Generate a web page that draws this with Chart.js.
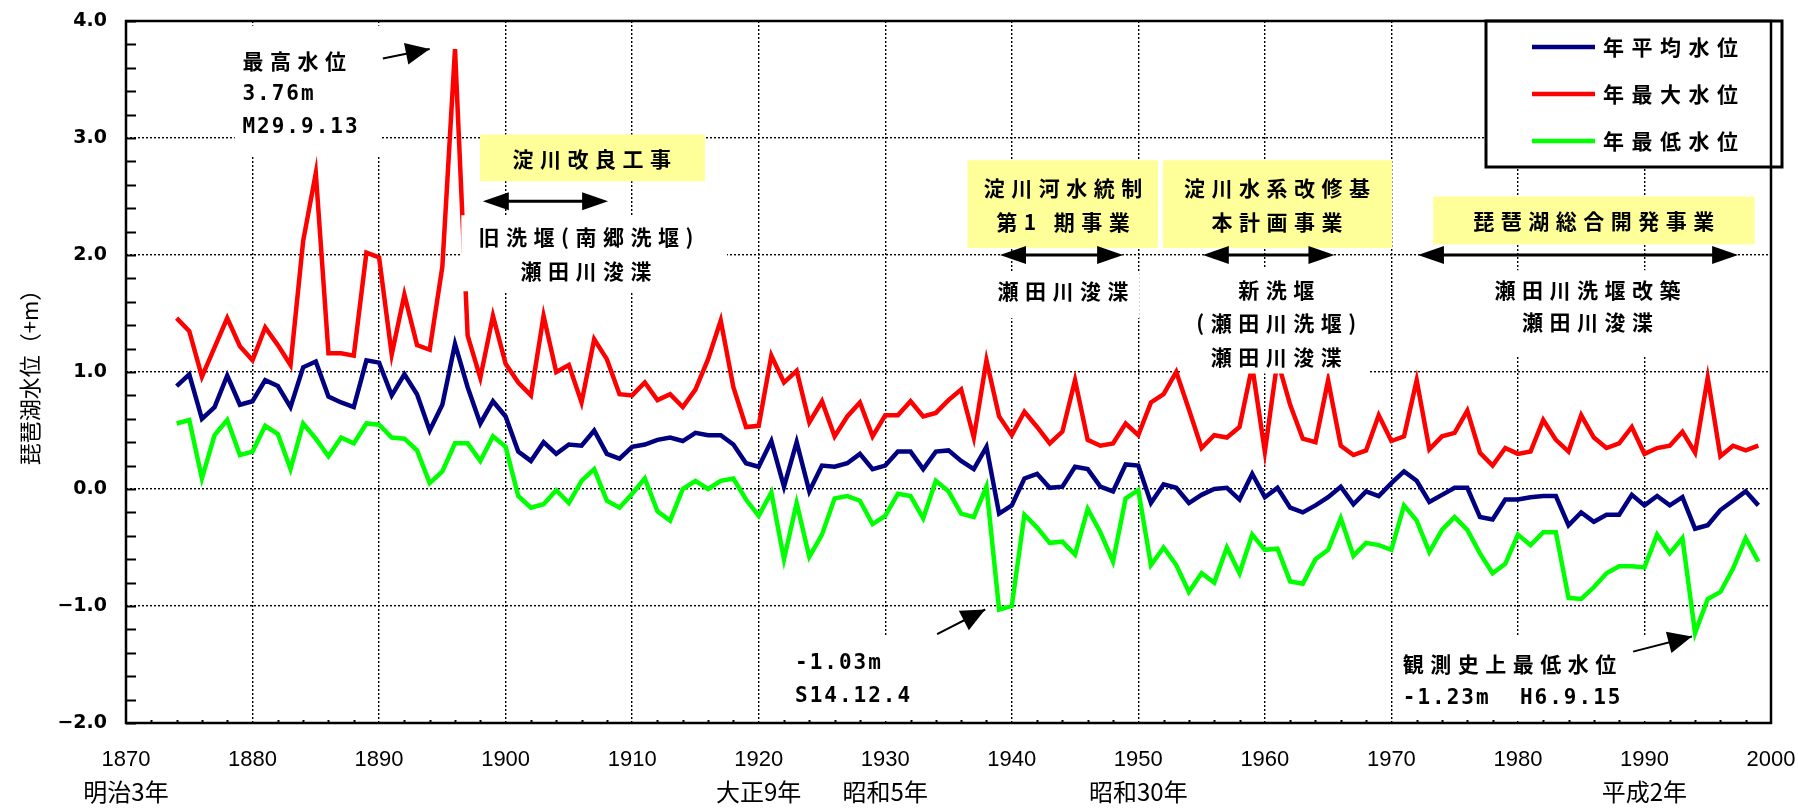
<!DOCTYPE html>
<html>
<head>
<meta charset="utf-8">
<script src="https://cdn.jsdelivr.net/npm/chart.js@4.4.1/dist/chart.umd.min.js"></script>
<style>
  html, body { margin: 0; padding: 0; background: #fff; }
</style>
</head>
<body>
<canvas id="chart" width="1798" height="809"></canvas>
<script>
// 琵琶湖水位 (1874-1999) 年平均・年最大・年最低
const startYear = 1874;

const meanLevel = [
    0.88, 0.98, 0.60, 0.70, 0.97, 0.72, 0.75, 0.93, 0.88, 0.70,
    1.04, 1.09, 0.79, 0.74, 0.70, 1.10, 1.08, 0.80, 0.98, 0.81,
    0.50, 0.72, 1.24, 0.87, 0.56, 0.75, 0.62, 0.32, 0.24, 0.40,
    0.30, 0.38, 0.37, 0.50, 0.30, 0.26, 0.36, 0.38, 0.42, 0.44,
    0.41, 0.48, 0.46, 0.46, 0.38, 0.22, 0.19, 0.41, 0.02, 0.40,
    -0.02, 0.20, 0.19, 0.22, 0.30, 0.17, 0.20, 0.32, 0.32, 0.17,
    0.32, 0.33, 0.24, 0.17, 0.36, -0.21, -0.14, 0.09, 0.13, 0.01,
    0.02, 0.19, 0.17, 0.02, -0.02, 0.21, 0.20, -0.12, 0.04, 0.01,
    -0.12, -0.05, 0.00, 0.01, -0.09, 0.13, -0.07, 0.01, -0.16, -0.20,
    -0.14, -0.07, 0.02, -0.13, -0.02, -0.06, 0.05, 0.15, 0.07, -0.11,
    -0.05, 0.01, 0.01, -0.24, -0.26, -0.09, -0.09, -0.07, -0.06, -0.06,
    -0.31, -0.20, -0.28, -0.22, -0.22, -0.05, -0.14, -0.06, -0.14, -0.07,
    -0.34, -0.31, -0.18, -0.10, -0.02, -0.14
];

const maxLevel = [
    1.46, 1.35, 0.96, 1.21, 1.46, 1.22, 1.10, 1.38, 1.23, 1.06,
    2.12, 2.70, 1.16, 1.16, 1.14, 2.02, 1.98, 1.15, 1.66, 1.23,
    1.19, 1.90, 3.76, 1.31, 0.95, 1.48, 1.07, 0.91, 0.80, 1.48,
    1.00, 1.06, 0.74, 1.28, 1.11, 0.81, 0.80, 0.91, 0.76, 0.81,
    0.70, 0.85, 1.11, 1.44, 0.87, 0.53, 0.54, 1.14, 0.91, 1.01,
    0.57, 0.75, 0.45, 0.62, 0.74, 0.45, 0.63, 0.63, 0.75, 0.62,
    0.65, 0.76, 0.85, 0.44, 1.10, 0.62, 0.46, 0.66, 0.53, 0.39,
    0.49, 0.93, 0.42, 0.37, 0.39, 0.56, 0.46, 0.74, 0.81, 1.00,
    0.68, 0.35, 0.46, 0.44, 0.53, 1.05, 0.32, 1.10, 0.72, 0.43,
    0.40, 0.93, 0.37, 0.29, 0.33, 0.63, 0.41, 0.45, 0.93, 0.34,
    0.45, 0.48, 0.67, 0.31, 0.20, 0.35, 0.30, 0.32, 0.59, 0.42,
    0.32, 0.63, 0.44, 0.35, 0.39, 0.53, 0.30, 0.35, 0.37, 0.49,
    0.31, 0.95, 0.28, 0.37, 0.33, 0.37
];

const minLevel = [
    0.56, 0.59, 0.09, 0.46, 0.59, 0.29, 0.32, 0.54, 0.47, 0.17,
    0.56, 0.43, 0.28, 0.44, 0.39, 0.56, 0.55, 0.44, 0.43, 0.33,
    0.05, 0.15, 0.39, 0.39, 0.24, 0.45, 0.36, -0.06, -0.16, -0.13,
    -0.01, -0.12, 0.07, 0.17, -0.10, -0.16, -0.04, 0.09, -0.19, -0.27,
    0.00, 0.07, 0.00, 0.07, 0.09, -0.09, -0.23, -0.03, -0.60, -0.12,
    -0.58, -0.39, -0.08, -0.06, -0.10, -0.30, -0.23, -0.04, -0.06, -0.25,
    0.07, -0.02, -0.21, -0.24, 0.02, -1.03, -1.00, -0.22, -0.33, -0.46,
    -0.45, -0.56, -0.17, -0.37, -0.62, -0.08, -0.01, -0.65, -0.50, -0.65,
    -0.88, -0.72, -0.80, -0.50, -0.72, -0.39, -0.52, -0.51, -0.79, -0.81,
    -0.60, -0.52, -0.25, -0.57, -0.46, -0.48, -0.52, -0.14, -0.27, -0.54,
    -0.35, -0.24, -0.35, -0.55, -0.72, -0.64, -0.39, -0.48, -0.37, -0.37,
    -0.93, -0.94, -0.84, -0.72, -0.66, -0.66, -0.67, -0.39, -0.55, -0.42,
    -1.23, -0.94, -0.88, -0.68, -0.42, -0.62
];

const years = meanLevel.map((_, i) => startYear + i);

const seriesNames = ['年平均水位', '年最大水位', '年最低水位'];
const seriesColors = ['#000080', '#ff0000', '#00ff00'];

const eraYears = [1870, 1920, 1930, 1950, 1990];
const eraNames = ['明治3年', '大正9年', '昭和5年', '昭和30年', '平成2年'];

const CJK = '"Noto Sans CJK JP"';
const MONO = '"DejaVu Sans Mono"';

// 注記（座標はデータ単位: 年, m）
const projectBoxes = [
    {x0: 1897.98, x1: 1915.76, v0: 3.03, v1: 2.63, cx: 1906.8, lines: [['淀川改良工事', 2.82]]},
    {x0: 1936.5, x1: 1951.55, v0: 2.81, v1: 2.06, cx: 1944.05, lines: [['淀川河水統制', 2.57], ['第1 期事業', 2.28]]},
    {x0: 1951.95, x1: 1970.05, v0: 2.81, v1: 2.06, cx: 1960.96, lines: [['淀川水系改修基', 2.57], ['本計画事業', 2.28]]},
    {x0: 1973.3, x1: 1998.7, v0: 2.50, v1: 2.09, cx: 1986.0, lines: [['琵琶湖総合開発事業', 2.29]]}
];

const spanArrows = [
    {x0: 1898.2, x1: 1908.1, v: 2.46},
    {x0: 1939.07, x1: 1948.8, v: 2.0},
    {x0: 1955.1, x1: 1965.5, v: 2.0},
    {x0: 1972.1, x1: 1997.4, v: 2.0}
];

const workNotes = [
    {x0: 1896.5, x1: 1917.5, v0: 2.34, v1: 1.69, cx: 1906.35, lines: [['旧洗堰(南郷洗堰)', 2.15], ['瀬田川浚渫', 1.86]]},
    {x0: 1937.9, x1: 1950.1, v0: 1.86, v1: 1.46, cx: 1944.05, lines: [['瀬田川浚渫', 1.69]]},
    {x0: 1953.45, x1: 1968.3, v0: 1.89, v1: 0.987, cx: 1960.9, lines: [['新洗堰', 1.70], ['(瀬田川洗堰)', 1.42], ['瀬田川浚渫', 1.13]]},
    {x0: 1976.05, x1: 1995.3, v0: 1.87, v1: 1.14, cx: 1985.5, lines: [['瀬田川洗堰改築', 1.70], ['瀬田川浚渫', 1.43]]}
];

const recordNotes = [
    {x0: 1878.6, x1: 1890.2, v0: 3.96, v1: 2.85, lx: 1879.2,
        lines: [['最高水位', 3.66, 'cjk'], ['3.76m', 3.37, 'mono'], ['M29.9.13', 3.09, 'mono']],
        arrow: [1890.3, 3.68, 1894.0, 3.76]},
    {x0: 1922.5, x1: 1932.4, v0: -1.26, v1: -1.97, lx: 1922.87,
        lines: [['-1.03m', -1.49, 'mono'], ['S14.12.4', -1.77, 'mono']],
        arrow: [1934.1, -1.24, 1937.9, -1.03]},
    {x0: 1970.5, x1: 1990.4, v0: -1.26, v1: -1.97, lx: 1970.9,
        lines: [['観測史上最低水位', -1.50, 'cjk'], ['-1.23m  H6.9.15', -1.79, 'mono']],
        arrow: [1989.1, -1.39, 1993.75, -1.26]}
];

function setFont(ctx, kind) {
    if (kind === 'mono') {
        ctx.font = 'bold 21px ' + MONO;
        ctx.letterSpacing = '2px';
        return 2;
    }
    ctx.font = 'bold 21px ' + CJK;
    ctx.letterSpacing = '6.5px';
    return 6.5;
}

function drawHead(ctx, x0, y0, x1, y1, len, half) {
    const a = Math.atan2(y1 - y0, x1 - x0);
    const bx = x1 - len * Math.cos(a);
    const by = y1 - len * Math.sin(a);
    ctx.beginPath();
    ctx.moveTo(x1, y1);
    ctx.lineTo(bx + half * Math.sin(a), by - half * Math.cos(a));
    ctx.lineTo(bx - half * Math.sin(a), by + half * Math.cos(a));
    ctx.closePath();
    ctx.fill();
}

const decorPlugin = {
    id: 'decorPlugin',
    afterDatasetsDraw(chart) {
        const ctx = chart.ctx;
        const xs = chart.scales.x;
        const ys = chart.scales.y;
        const X = v => xs.getPixelForValue(v);
        const Y = v => ys.getPixelForValue(v);
        const area = chart.chartArea;

        ctx.save();

        // 白抜きの注記枠
        for (const n of workNotes.concat(recordNotes)) {
            ctx.fillStyle = '#ffffff';
            ctx.fillRect(X(n.x0), Y(n.v0), X(n.x1) - X(n.x0), Y(n.v1) - Y(n.v0));
        }

        // 事業名（黄色の枠）
        for (const b of projectBoxes) {
            ctx.fillStyle = '#ffff99';
            ctx.fillRect(X(b.x0), Y(b.v0), X(b.x1) - X(b.x0), Y(b.v1) - Y(b.v0));
            ctx.fillStyle = '#000';
            ctx.textAlign = 'center';
            ctx.textBaseline = 'middle';
            for (const [t, v] of b.lines) {
                const sp = setFont(ctx, 'cjk');
                ctx.fillText(t, X(b.cx) + sp / 2, Y(v));
            }
        }

        // 工事内容
        for (const n of workNotes) {
            ctx.fillStyle = '#000';
            ctx.textAlign = 'center';
            ctx.textBaseline = 'middle';
            for (const [t, v] of n.lines) {
                const sp = setFont(ctx, 'cjk');
                ctx.fillText(t, X(n.cx) + sp / 2, Y(v));
            }
        }

        // 期間の両矢印
        ctx.strokeStyle = '#000';
        ctx.fillStyle = '#000';
        ctx.lineWidth = 3;
        for (const a of spanArrows) {
            const x0 = X(a.x0), x1 = X(a.x1), y = Y(a.v);
            ctx.beginPath();
            ctx.moveTo(x0 + 10, y);
            ctx.lineTo(x1 - 10, y);
            ctx.stroke();
            drawHead(ctx, x1 - 30, y, x1, y, 26, 9);
            drawHead(ctx, x0 + 30, y, x0, y, 26, 9);
        }

        // 最高・最低水位の注記
        for (const n of recordNotes) {
            ctx.fillStyle = '#000';
            ctx.textAlign = 'left';
            ctx.textBaseline = 'middle';
            for (const [t, v, kind] of n.lines) {
                setFont(ctx, kind);
                ctx.fillText(t, X(n.lx), Y(v));
            }
            const [ax0, av0, ax1, av1] = n.arrow;
            ctx.lineWidth = 2;
            ctx.beginPath();
            ctx.moveTo(X(ax0), Y(av0));
            ctx.lineTo(X(ax1), Y(av1));
            ctx.stroke();
            drawHead(ctx, X(ax0), Y(av0), X(ax1), Y(av1), 24, 11);
        }
        ctx.letterSpacing = '0px';

        // 凡例
        const lx0 = area.right - 285, lx1 = area.right + 11;
        const ly0 = area.top, ly1 = area.top + 146;
        ctx.fillStyle = '#ffffff';
        ctx.fillRect(lx0, ly0, lx1 - lx0, ly1 - ly0);
        ctx.lineWidth = 3;
        ctx.strokeStyle = '#000';
        ctx.strokeRect(lx0, ly0, lx1 - lx0, ly1 - ly0);
        seriesNames.forEach((name, i) => {
            const y = area.top + 26 + i * 47;
            ctx.strokeStyle = seriesColors[i];
            ctx.lineWidth = 4.5;
            ctx.beginPath();
            ctx.moveTo(lx0 + 46, y);
            ctx.lineTo(lx0 + 109, y);
            ctx.stroke();
            ctx.fillStyle = '#000';
            ctx.font = 'bold 21px ' + CJK;
            ctx.letterSpacing = '7.5px';
            ctx.textAlign = 'left';
            ctx.textBaseline = 'middle';
            ctx.fillText(name, lx0 + 117, y);
        });
        ctx.letterSpacing = '0px';

        // 元号（年ラベルの下）
        ctx.fillStyle = '#000';
        ctx.font = '24px ' + CJK;
        ctx.textAlign = 'center';
        ctx.textBaseline = 'middle';
        eraYears.forEach((yr, i) => {
            ctx.fillText(eraNames[i], X(yr), area.bottom + 69);
        });

        // 補助目盛
        ctx.strokeStyle = '#000';
        ctx.lineWidth = 2;
        ctx.beginPath();
        for (let v = -2; v <= 4.001; v += 0.2) {
            const y = Math.round(Y(v)) + 0.5;
            ctx.moveTo(area.left, y);
            ctx.lineTo(area.left + 10, y);
        }
        for (let yr = 1872; yr < 2000; yr += 2) {
            if (yr % 10 === 0) continue;
            const x = Math.round(X(yr)) + 0.5;
            ctx.moveTo(x, area.bottom);
            ctx.lineTo(x, area.bottom - 3);
        }
        ctx.stroke();

        // 外枠
        ctx.lineWidth = 2.5;
        ctx.strokeRect(area.left, area.top, area.right - area.left, area.bottom - area.top);
        ctx.restore();
    }
};

const chart = new Chart(document.getElementById('chart'), {
    type: 'line',
    data: {
        datasets: [meanLevel, maxLevel, minLevel].map((series, i) => ({
            label: seriesNames[i],
            data: series.map((v, j) => ({x: years[j], y: v})),
            borderColor: seriesColors[i],
            backgroundColor: seriesColors[i],
            borderWidth: 4.5,
            pointRadius: 0,
            tension: 0,
            fill: false
        }))
    },
    options: {
        responsive: false,
        animation: false,
        devicePixelRatio: 1,
        layout: {padding: {top: 21, right: 27, left: 0, bottom: 0}},
        plugins: {
            legend: {display: false},
            tooltip: {enabled: false}
        },
        scales: {
            x: {
                type: 'linear',
                min: 1870,
                max: 2000,
                afterFit: s => {
                    s.height = 86;
                    s.paddingLeft = 0;
                    s.paddingRight = 0;
                },
                ticks: {
                    stepSize: 10,
                    autoSkip: false,
                    maxRotation: 0,
                    padding: 24,
                    color: '#000',
                    font: {family: '"Liberation Sans"', size: 22},
                    callback: v => String(v)
                },
                grid: {color: '#000', lineWidth: 1.4, drawTicks: false},
                border: {display: false, dash: [2, 2]}
            },
            y: {
                min: -2,
                max: 4,
                afterFit: s => {
                    s.width = 126;
                    s.paddingTop = 0;
                    s.paddingBottom = 0;
                },
                ticks: {
                    stepSize: 1,
                    padding: 19,
                    color: '#000',
                    font: {family: '"DejaVu Sans"', size: 19, weight: 'bold'},
                    callback: v => (v < 0 ? '−' : '') + Math.abs(v).toFixed(1)
                },
                grid: {color: '#000', lineWidth: 1.4, drawTicks: false},
                border: {display: false, dash: [2, 2]},
                title: {
                    display: true,
                    text: '琵琶湖水位（+m）',
                    color: '#000',
                    font: {family: CJK, size: 22},
                    padding: {top: 16, bottom: 0}
                }
            }
        }
    },
    plugins: [decorPlugin]
});
</script>
</body>
</html>
